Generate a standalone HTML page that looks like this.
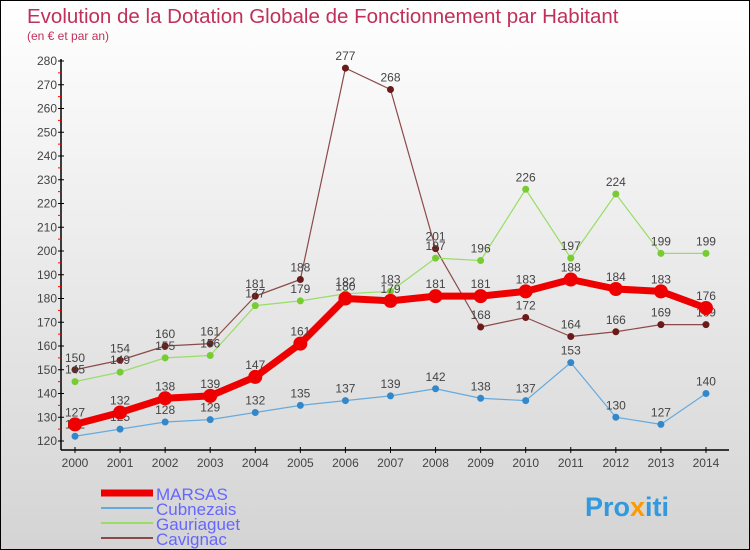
<!DOCTYPE html>
<html><head><meta charset="utf-8"><style>
body{margin:0}
#c{width:750px;height:550px;position:relative;box-sizing:border-box;border:1px solid #000;background:linear-gradient(#fff,#d4d4d4);font-family:"Liberation Sans",sans-serif;overflow:hidden}
</style></head><body>
<div id="c">
<svg id="s" width="748" height="548" style="position:absolute;left:0;top:0">
<text x="26" y="22" font-size="20.5" fill="#c0305a">Evolution de la Dotation Globale de Fonctionnement par Habitant</text>
<text x="26" y="39" font-size="12" fill="#c0305a">(en € et par an)</text>
<g id="ax"></g><g id="ser"></g>
<text x="584" y="515" font-size="27" font-weight="bold" fill="#3399dd">Pro<tspan fill="#ff9900">x</tspan>iti</text>
</svg>
</div>
<script>
const years=[2000,2001,2002,2003,2004,2005,2006,2007,2008,2009,2010,2011,2012,2013,2014];
const yTicks=[120,130,140,150,160,170,180,190,200,210,220,230,240,250,260,270,280];
const marsas=[127,132,138,139,147,161,180,179,181,181,183,188,184,183,176];
const cubnezais=[122,125,128,129,132,135,137,139,142,138,137,153,130,127,140];
const gauriaguet=[145,149,155,156,177,179,182,183,197,196,226,197,224,199,199];
const cavignac=[150,154,160,161,181,188,277,268,201,168,172,164,166,169,169];
const NS="http://www.w3.org/2000/svg";
const X=i=>74+i*45.07, Y=v=>440-(v-120)*2.375;
function mk(t,a,p){const e=document.createElementNS(NS,t);for(const k in a)e.setAttribute(k,a[k]);p.appendChild(e);return e;}
const ax=document.getElementById('ax'), ser=document.getElementById('ser');
mk('line',{x1:60,y1:58,x2:60,y2:449,stroke:'#000','stroke-width':1.5},ax);
mk('line',{x1:60,y1:449,x2:728,y2:449,stroke:'#000','stroke-width':1.5},ax);
yTicks.forEach(v=>{
 mk('line',{x1:57,y1:Y(v),x2:63,y2:Y(v),stroke:'#000'},ax);
 if(v<280) mk('line',{x1:57,y1:Y(v+5),x2:60,y2:Y(v+5),stroke:'#f00'},ax);
 const t=mk('text',{x:56,y:Y(v)+4,'font-size':12,fill:'#444','text-anchor':'end'},ax);t.textContent=v;
 
 
});
years.forEach((y,i)=>{
 mk('line',{x1:X(i),y1:446,x2:X(i),y2:452,stroke:'#000'},ax);
 const t=mk('text',{x:X(i),y:466,'font-size':12,fill:'#444','text-anchor':'middle'},ax);t.textContent=y;
 
 
});
function series(d,col,dot,w,r,name){
 const g=mk('g',{},ser);
 
 
 mk('polyline',{points:d.map((v,i)=>X(i)+','+Y(v)).join(' '),fill:'none',stroke:col,'stroke-width':w,'stroke-linejoin':'round'},g);
 d.forEach((v,i)=>{
  const c=mk('circle',{cx:X(i),cy:Y(v),r:r,fill:dot,stroke:dot},g);
  
  
  const t=mk('text',{x:X(i),y:Y(v)-8,'font-size':12,fill:'#444','text-anchor':'middle'},g);t.textContent=v;
 });
}
series(cavignac,'#8b4a4a','#6b1a1a',1.2,3,'cavignac');
series(gauriaguet,'#99dd66','#77cc33',1.2,3,'gauriaguet');
series(cubnezais,'#66aadd','#3388cc',1.2,3,'cubnezais');
series(marsas,'#ee0000','#ee0000',7,6.5,'marsas');
const leg=[['MARSAS','#ee0000',7],['Cubnezais','#66aadd',2],['Gauriaguet','#99dd66',2],['Cavignac','#8b4a4a',2]];
leg.forEach((l,i)=>{
 const y=492+i*15;
 const g=mk('g',{},ser);
 
 
 mk('line',{x1:100,y1:y,x2:152,y2:y,stroke:l[1],'stroke-width':l[2]},g);
 const t=mk('text',{x:155,y:y+7,'font-size':17,fill:'#6666ff'},g);t.textContent=l[0];
});
</script>
</body></html>
